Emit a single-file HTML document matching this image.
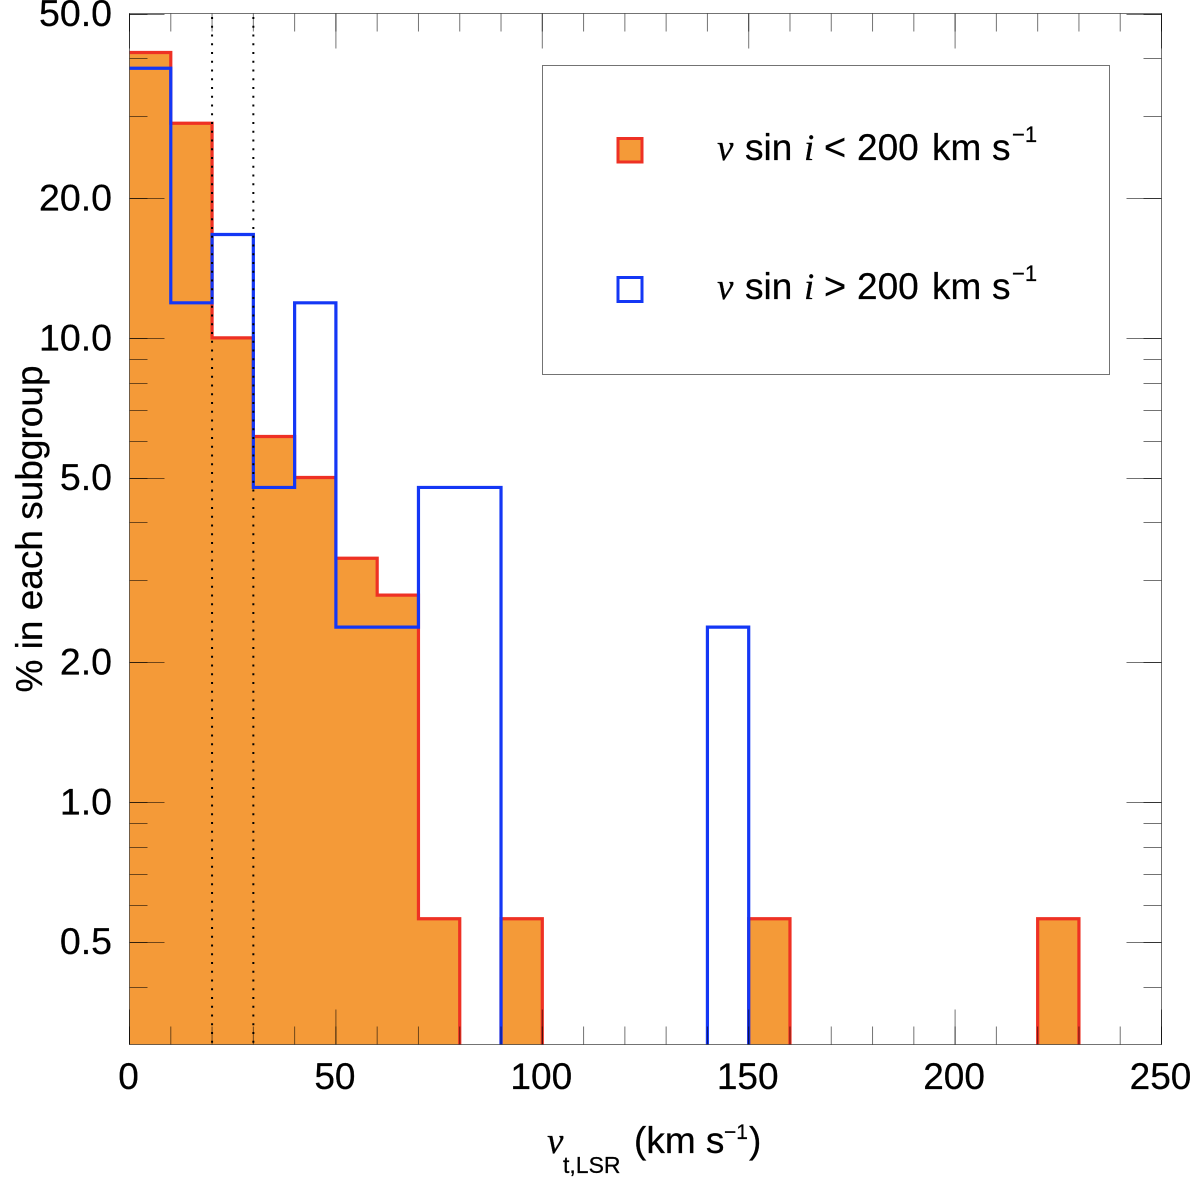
<!DOCTYPE html>
<html lang="en">
<head>
<meta charset="utf-8">
<title>Histogram of tangential velocity</title>
<style>
html,body{margin:0;padding:0;background:#fff;}
svg{display:block;}
text{font-family:"Liberation Sans",sans-serif;fill:#000;stroke:#000;stroke-width:0.25px;}
.serif{font-family:"Liberation Serif",serif;font-style:italic;}
</style>
</head>
<body>
<svg id="chart" xmlns="http://www.w3.org/2000/svg" width="1200" height="1184" viewBox="0 0 1200 1184">
  <rect x="0" y="0" width="1200" height="1184" fill="#fff"/>
  <g id="fills"></g>
  <g id="lines"></g>
  <g id="refs"></g>
  <g id="ticks"></g>
  <g id="labels"></g>
  <rect x="129.5" y="13.5" width="1032" height="1031" fill="none" stroke="#000" stroke-opacity="0.55" stroke-width="1"/>

  <g>
    <rect x="542.5" y="65.5" width="567" height="309" fill="#fff" stroke="#000" stroke-opacity="0.55" stroke-width="1"/>
    <rect x="618" y="138.5" width="24" height="23.5" fill="#f49a38" stroke="#ee3124" stroke-width="3"/>
    <rect x="618" y="277.5" width="24" height="24" fill="#fff" stroke="#1437f5" stroke-width="3"/>
    <text y="160" font-size="37"><tspan class="serif" x="717">v</tspan><tspan x="745">sin</tspan><tspan class="serif" x="804">i</tspan><tspan x="824" font-size="38">&lt;</tspan><tspan x="857">200</tspan><tspan x="932">km</tspan><tspan x="992">s</tspan><tspan x="1012" y="142" font-size="22">−1</tspan></text>
    <text y="299" font-size="37"><tspan class="serif" x="717">v</tspan><tspan x="745">sin</tspan><tspan class="serif" x="804">i</tspan><tspan x="824" font-size="38">&gt;</tspan><tspan x="857">200</tspan><tspan x="932">km</tspan><tspan x="992">s</tspan><tspan x="1012" y="281" font-size="22">−1</tspan></text>
  </g>

  <text y="1153" font-size="37"><tspan class="serif" x="547">v</tspan><tspan x="563" y="1173" font-size="23">t,LSR</tspan><tspan x="634" y="1153">(km s</tspan><tspan x="724" y="1139" font-size="21">−1</tspan><tspan x="749" y="1153">)</tspan></text>
  <text font-size="37" text-anchor="middle" transform="translate(42 529) rotate(-90)">% in each subgroup</text>
</svg>
<script>
var binWidth = 10;
var lowRotationValues = [41.2, 29.0, 10.0, 6.13, 5.0, 3.35, 2.79, 0.56, 0, 0.56, 0, 0, 0, 0, 0, 0.56, 0, 0, 0, 0, 0, 0, 0.56, 0, 0];
var highRotationValues = [38.1, 11.9, 16.7, 4.76, 11.9, 2.38, 2.38, 4.76, 4.76, 0, 0, 0, 0, 0, 2.38, 0, 0, 0, 0, 0, 0, 0, 0, 0, 0];
var referenceVelocities = [20, 30];
var xMajorTicks = [0, 50, 100, 150, 200, 250];
var xMinorTicks = [0, 10, 20, 30, 40, 50, 60, 70, 80, 90, 100, 110, 120, 130, 140, 150, 160, 170, 180, 190, 200, 210, 220, 230, 240, 250];
var yMajorTicks = [0.5, 1, 2, 5, 10, 20, 50];
var yMinorTicks = [0.4, 0.6, 0.7, 0.8, 0.9, 3, 4, 6, 7, 8, 9, 30, 40];
var yTickLabels = ['0.5', '1.0', '2.0', '5.0', '10.0', '20.0', '50.0'];
var xTickLabels = ['0', '50', '100', '150', '200', '250'];

var svgNS = 'http://www.w3.org/2000/svg';
var plotLeft = 129.5, plotRight = 1161.5, plotTop = 13.5, plotBottom = 1044.5;
var xMin = 0, xMax = 250, yMin = 0.3, yMax = 50;

function xScale(v) {
  return plotLeft + (v - xMin) / (xMax - xMin) * (plotRight - plotLeft);
}
function yScale(v) {
  return plotBottom - (Math.log10(v) - Math.log10(yMin)) / (Math.log10(yMax) - Math.log10(yMin)) * (plotBottom - plotTop);
}

function outlinePath(values) {
  var d = '';
  var open = false;
  for (var i = 0; i < values.length; i++) {
    var x0 = xScale(i * binWidth), x1 = xScale((i + 1) * binWidth);
    if (values[i] > 0) {
      var y = yScale(values[i]).toFixed(2);
      if (!open) {
        d += i === 0 ? 'M' + x0.toFixed(2) + ' ' + y : 'M' + x0.toFixed(2) + ' ' + plotBottom + 'L' + x0.toFixed(2) + ' ' + y;
      } else {
        d += 'L' + x0.toFixed(2) + ' ' + y;
      }
      d += 'L' + x1.toFixed(2) + ' ' + y;
      open = true;
    } else if (open) {
      d += 'L' + x0.toFixed(2) + ' ' + plotBottom;
      open = false;
    }
  }
  return d;
}

function fillPath(values) {
  var d = '';
  for (var i = 0; i < values.length; i++) {
    if (values[i] > 0) {
      var x0 = xScale(i * binWidth).toFixed(2), x1 = xScale((i + 1) * binWidth).toFixed(2);
      var y = yScale(values[i]).toFixed(2);
      d += 'M' + x0 + ' ' + plotBottom + 'L' + x0 + ' ' + y + 'L' + x1 + ' ' + y + 'L' + x1 + ' ' + plotBottom + 'Z';
    }
  }
  return d;
}

function makeLine(parent, x1, y1, x2, y2) {
  var l = document.createElementNS(svgNS, 'line');
  l.setAttribute('x1', x1);
  l.setAttribute('y1', y1);
  l.setAttribute('x2', x2);
  l.setAttribute('y2', y2);
  parent.appendChild(l);
  return l;
}

var fillsGroup = document.getElementById('fills');
var linesGroup = document.getElementById('lines');
var refsGroup = document.getElementById('refs');
var ticksGroup = document.getElementById('ticks');
var labelsGroup = document.getElementById('labels');

var lowFill = document.createElementNS(svgNS, 'path');


lowFill.setAttribute('d', fillPath(lowRotationValues));
lowFill.setAttribute('fill', '#f49a38');
fillsGroup.appendChild(lowFill);

var lowLine = document.createElementNS(svgNS, 'path');


lowLine.setAttribute('d', outlinePath(lowRotationValues));
lowLine.setAttribute('fill', 'none');
lowLine.setAttribute('stroke', '#ee3124');
lowLine.setAttribute('stroke-width', '3.2');
lowLine.setAttribute('stroke-linejoin', 'miter');
linesGroup.appendChild(lowLine);

var highLine = document.createElementNS(svgNS, 'path');


highLine.setAttribute('d', outlinePath(highRotationValues));
highLine.setAttribute('fill', 'none');
highLine.setAttribute('stroke', '#1437f5');
highLine.setAttribute('stroke-width', '3.2');
highLine.setAttribute('stroke-linejoin', 'miter');
linesGroup.appendChild(highLine);

referenceVelocities.forEach(function (v) {
  var l = makeLine(refsGroup, xScale(v), plotTop, xScale(v), plotBottom);
  
  
  l.setAttribute('stroke', '#000');
  l.setAttribute('stroke-width', '2');
  l.setAttribute('stroke-dasharray', '2 6.75');
  l.setAttribute('stroke-dashoffset', '-3.5');
});

function addXTick(v, len, kind) {
  var a = makeLine(ticksGroup, xScale(v), plotBottom, xScale(v), plotBottom - len);
  
  
  a.setAttribute('stroke', '#000');
  a.setAttribute('stroke-opacity', '0.55');
  var b = makeLine(ticksGroup, xScale(v), plotTop, xScale(v), plotTop + len);
  
  
  b.setAttribute('stroke', '#000');
  b.setAttribute('stroke-opacity', '0.55');
}
function addYTick(v, len, kind) {
  var y = Math.round(yScale(v)) + 0.5;
  var a = makeLine(ticksGroup, plotLeft, y, plotLeft + len, y);
  
  
  a.setAttribute('stroke', '#000');
  a.setAttribute('stroke-opacity', '0.55');
  var b = makeLine(ticksGroup, plotRight, y, plotRight - len, y);
  
  
  b.setAttribute('stroke', '#000');
  b.setAttribute('stroke-opacity', '0.55');
}

xMinorTicks.forEach(function (v) { addXTick(v, 18, 'minor'); });
xMajorTicks.forEach(function (v) { addXTick(v, 35, 'major'); });
yMinorTicks.forEach(function (v) { addYTick(v, 18, 'minor'); });
yMajorTicks.forEach(function (v) { addYTick(v, 18, 'minor'); addYTick(v, 35, 'major'); });

xMajorTicks.forEach(function (v, i) {
  var t = document.createElementNS(svgNS, 'text');
  
  
  t.setAttribute('x', xScale(v) - 1);
  t.setAttribute('y', 1089);
  t.setAttribute('font-size', '37');
  t.setAttribute('text-anchor', 'middle');
  t.textContent = xTickLabels[i];
  labelsGroup.appendChild(t);
});

yMajorTicks.forEach(function (v, i) {
  var t = document.createElementNS(svgNS, 'text');
  
  
  t.setAttribute('x', 112);
  t.setAttribute('y', yScale(v) + 12.5);
  t.setAttribute('font-size', '37.5');
  t.setAttribute('text-anchor', 'end');
  t.textContent = yTickLabels[i];
  labelsGroup.appendChild(t);
});
</script>
</body>
</html>
